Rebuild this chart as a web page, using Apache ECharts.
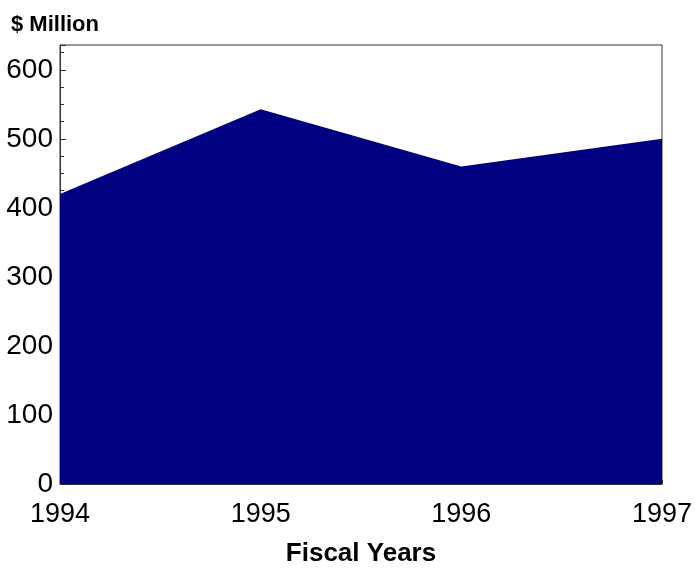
<!DOCTYPE html>
<html>
<head>
<meta charset="utf-8">
<script src="https://cdn.jsdelivr.net/npm/echarts@6/dist/echarts.min.js"></script>
<style>
  html, body { margin: 0; padding: 0; background: #fff; }
  #chart { width: 695px; height: 573px; }
</style>
</head>
<body>
<div id="chart"></div>
<script>
  "use strict";

  const years = ["1994", "1995", "1996", "1997"];
  const spending = [420, 543, 460, 500];
  const yTicks = [0, 100, 200, 300, 400, 500, 600];

  const font = '"Liberation Sans", Arial, sans-serif';

  const chart = echarts.init(document.getElementById("chart"), null, { renderer: "canvas" });
  chart.setOption({
    animation: false,
    backgroundColor: "#fff",
    title: {
      text: "$ Million",
      left: 6,
      top: 9,
      textStyle: { fontFamily: font, fontSize: 22, fontWeight: "bold", color: "#000" }
    },
    grid: {
      left: 60,
      right: 33,
      top: 45,
      bottom: 89,
      outerBoundsMode: "none",
      containLabel: false,
      show: true,
      borderColor: "#333",
      borderWidth: 1,
      backgroundColor: "#fff"
    },
    xAxis: {
      type: "category",
      data: years,
      boundaryGap: false,
      name: "Fiscal Years",
      nameLocation: "middle",
      nameGap: 57,
      nameTextStyle: { fontFamily: font, fontSize: 26, fontWeight: "bold", color: "#000" },
      axisLine: { lineStyle: { color: "#333", width: 1 } },
      axisTick: { inside: true, length: 4, lineStyle: { color: "#333" } },
      axisLabel: { fontFamily: font, fontSize: 27, color: "#000", margin: 17 },
      splitLine: { show: false }
    },
    yAxis: {
      type: "value",
      min: 0,
      max: 636,
      interval: 100,
      axisLine: { show: true, lineStyle: { color: "#333", width: 1 } },
      axisTick: { show: true, inside: true, length: 6, lineStyle: { color: "#333" } },
      minorTick: { show: true, splitNumber: 4, length: 4, lineStyle: { color: "#333" } },
      axisLabel: {
        fontFamily: font,
        fontSize: 28,
        color: "#000",
        margin: 7,
        showMaxLabel: false,
        formatter: (v) => (yTicks.includes(v) ? String(v) : "")
      },
      splitLine: { show: false }
    },
    series: [
      {
        type: "line",
        data: spending,
        symbol: "none",
        lineStyle: { width: 0 },
        areaStyle: { color: "#000080", opacity: 1 },
        z: 1
      }
    ]
  });
</script>
</body>
</html>
